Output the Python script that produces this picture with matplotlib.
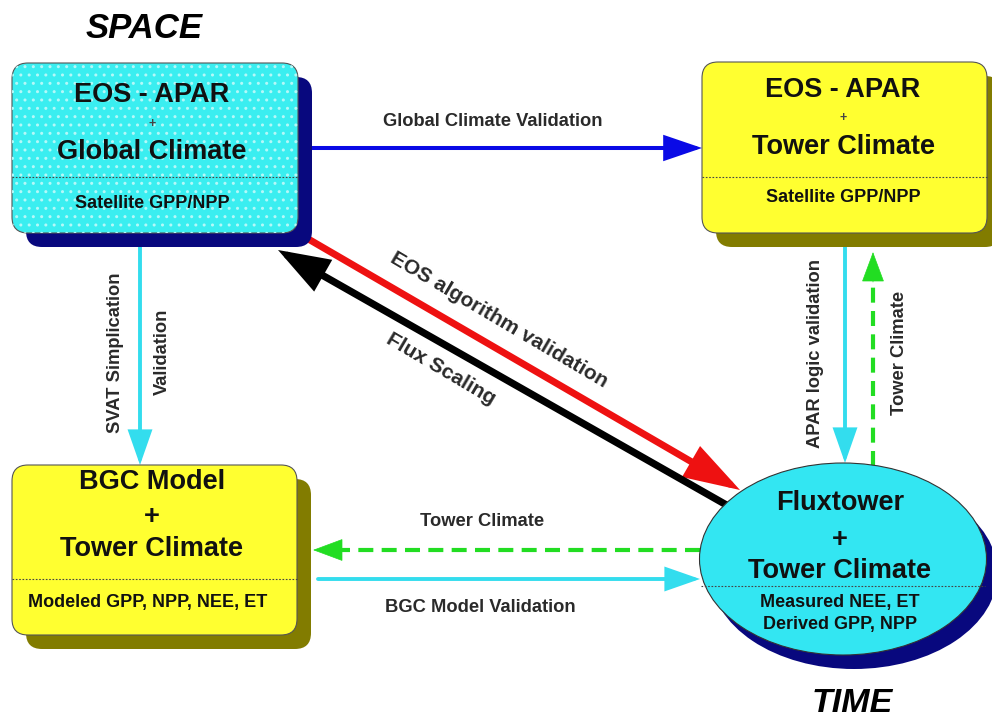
import matplotlib
matplotlib.use("Agg")
import matplotlib.pyplot as plt
from matplotlib.patches import FancyBboxPatch, Ellipse
import math

plt.rcParams['font.family'] = ['Liberation Sans', 'DejaVu Sans']
plt.rcParams['hatch.linewidth'] = 1.0

# ---- diagram content ----
corner_titles = ["SPACE", "TIME"]
box1_lines = ["EOS - APAR", "+", "Global Climate", "Satellite GPP/NPP"]
box2_lines = ["EOS - APAR", "+", "Tower Climate", "Satellite GPP/NPP"]
box3_lines = ["BGC Model", "+", "Tower Climate", "Modeled GPP, NPP, NEE, ET"]
ell_lines = ["Fluxtower", "+", "Tower Climate", "Measured NEE, ET", "Derived GPP, NPP"]
edge_labels = ["Global Climate Validation", "EOS algorithm validation", "Flux Scaling",
               "SVAT Simplication", "Validation", "APAR logic validation",
               "Tower Climate", "Tower Climate", "BGC Model Validation"]

CYAN = '#3aeef0'
CYAN_E = '#33e6f2'
YEL = '#ffff30'
NAVY = '#08087e'
OLIVE = '#827c00'
ARC = '#33ddee'
GREEN = '#22dd22'
TXT = '#111111'
LTXT = '#2a2a2a'

fig = plt.figure(figsize=(9.92, 7.21), dpi=100)
ax = fig.add_axes([0, 0, 1, 1])
ax.set_xlim(0, 992)
ax.set_ylim(721, 0)
ax.axis('off')


def rbox(x0, y0, x1, y1, face, shadow, dots=False):
    sh = FancyBboxPatch((x0 + 14, y0 + 14), x1 - x0, y1 - y0,
                        boxstyle="round,pad=0,rounding_size=16",
                        fc=shadow, ec='none', zorder=2)
    ax.add_patch(sh)
    b = FancyBboxPatch((x0, y0), x1 - x0, y1 - y0,
                       boxstyle="round,pad=0,rounding_size=16",
                       fc=face, ec='#555555', lw=0.8, zorder=3)
    ax.add_patch(b)
    if dots:
        h = FancyBboxPatch((x0, y0), x1 - x0, y1 - y0,
                           boxstyle="round,pad=0,rounding_size=16",
                           fc='none', ec='#b4f8f8', lw=0, hatch='..', zorder=3.5)
        ax.add_patch(h)


def divider(x0, x1, y):
    ax.plot([x0, x1], [y, y], color='#444444', lw=0.8, ls=(0, (1.5, 1.5)), zorder=4)


def btext(x, y, s, size, color=TXT, rot=0):
    ax.text(x, y, s, ha='center', va='center', fontsize=size, fontweight='bold',
            color=color, rotation=rot, rotation_mode='anchor', zorder=5)


def arrow(x0, y0, x1, y1, color, lw, hl, hw, z=1):
    ax.annotate('', xy=(x1, y1), xytext=(x0, y0),
                arrowprops=dict(arrowstyle=f'-|>,head_length={hl},head_width={hw}',
                                color=color, lw=lw, shrinkA=0, shrinkB=0,
                                mutation_scale=1, joinstyle='miter'),
                zorder=z)


def dashed_arrow(x0, y0, x1, y1, color, lw, hl_px, hw):
    d = math.hypot(x1 - x0, y1 - y0)
    ux, uy = (x1 - x0) / d, (y1 - y0) / d
    bx, by = x1 - ux * hl_px, y1 - uy * hl_px
    ax.plot([x0, bx], [y0, by], color=color, lw=lw, dashes=(3.6, 2.0),
            solid_capstyle='butt', dash_capstyle='butt', zorder=1)
    arrow(bx - ux * 2, by - uy * 2, x1, y1, color, 0.5, hl_px * 0.72, hw)


# ---- arrows ----
arrow(312, 148, 702, 148, '#0a0ae6', 2.9, 22, 7.5)
arrow(310, 240, 740, 490, '#ee1111', 5.0, 30, 9.5)
arrow(730, 507, 278, 250, '#000000', 5.2, 27, 9.5)
arrow(140, 247, 140, 465, ARC, 2.8, 20, 7)
arrow(845, 247, 845, 463, ARC, 2.8, 20, 7)
arrow(318, 579, 700, 579, ARC, 2.8, 20, 7)
dashed_arrow(873, 466, 873, 252, GREEN, 3.0, 28, 7.5)
dashed_arrow(700, 550, 313, 550, GREEN, 3.0, 28, 7.5)

# ---- boxes ----
rbox(12, 63, 298, 233, CYAN, NAVY, dots=True)
divider(12, 298, 177)
btext(152, 95, box1_lines[0], 19.5)
btext(152, 124, box1_lines[1], 9, '#444444')
btext(152, 152, box1_lines[2], 19.5)
btext(152, 204, box1_lines[3], 13)

rbox(702, 62, 987, 233, YEL, OLIVE)
divider(702, 987, 177)
btext(843, 90, box2_lines[0], 19.5)
btext(843, 118, box2_lines[1], 9, '#444444')
btext(843, 147, box2_lines[2], 19.5)
btext(843, 198, box2_lines[3], 13)

rbox(12, 465, 297, 635, YEL, OLIVE)
divider(12, 297, 579)
btext(152, 482, box3_lines[0], 19.5)
btext(152, 517, box3_lines[1], 19.5)
btext(152, 549, box3_lines[2], 19.5)
btext(148, 602, box3_lines[3], 13)

ax.add_patch(Ellipse((854, 573), 287, 192, fc=NAVY, ec='none', zorder=2))
ax.add_patch(Ellipse((843, 559), 287, 192, fc=CYAN_E, ec='#333333', lw=0.8, zorder=3))
divider(701, 985, 586)
btext(840, 503, ell_lines[0], 19.5)
btext(840, 540, ell_lines[1], 19.5)
btext(840, 571, ell_lines[2], 19.5)
btext(840, 602, ell_lines[3], 13)
btext(840, 624, ell_lines[4], 13)

# ---- corner titles ----
ax.text(144, 29, corner_titles[0], ha='center', va='center', fontsize=25,
        fontweight='bold', fontstyle='italic', color='#000000')
ax.text(852, 704, corner_titles[1], ha='center', va='center', fontsize=24.5,
        fontweight='bold', fontstyle='italic', color='#000000')

# ---- edge labels ----
ES = 13.2
DS = 15
btext(493, 122, edge_labels[0], ES, LTXT)
btext(499, 320, edge_labels[1], DS, LTXT, rot=-30.5)
btext(441, 369, edge_labels[2], DS, LTXT, rot=-30.5)
btext(115, 353, edge_labels[3], ES, LTXT, rot=90)
btext(162, 352, edge_labels[4], ES, LTXT, rot=90)
btext(815, 353, edge_labels[5], ES, LTXT, rot=90)
btext(900, 353, edge_labels[6], ES, LTXT, rot=90)
btext(482, 522, edge_labels[7], ES, LTXT)
btext(480, 607, edge_labels[8], ES, LTXT)

fig.savefig('out.png', dpi=100, facecolor='white')
